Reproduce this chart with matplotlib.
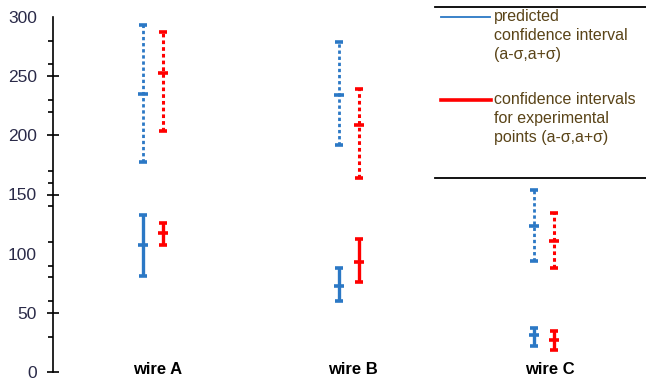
import matplotlib
matplotlib.use("Agg")
import matplotlib.pyplot as plt
import matplotlib.transforms as mtransforms
from matplotlib.lines import Line2D

# ---- data ----
wires = ["wire A", "wire B", "wire C"]

# predicted confidence interval (blue, dotted)
pred_ci_mean = [235, 234, 123]
pred_ci_low = [177.5, 191.5, 93.5]
pred_ci_high = [293, 278.5, 153.5]

# experimental confidence interval (red, dotted)
exp_ci_mean = [253, 208.5, 110.5]
exp_ci_low = [204, 164, 88]
exp_ci_high = [287, 239.5, 134]

# predicted points (blue, solid)
pred_mean = [107, 73, 31]
pred_low = [81, 60, 22]
pred_high = [133, 88, 37.5]

# experimental points (red, solid)
exp_mean = [117.5, 93, 27]
exp_low = [107.5, 76, 18.5]
exp_high = [125.5, 112.5, 34.5]

y_major = [0, 50, 100, 150, 200, 250, 300]
y_major_no_tick = [100, 300]
y_minor = [30, 60, 80, 90, 110, 140, 160, 170, 220, 230, 260, 280]

legend_pred = "predicted\nconfidence interval\n(a-σ,a+σ)"
legend_exp = "confidence intervals\nfor experimental\npoints (a-σ,a+σ)"

BLUE = "#2b78c5"
RED = "#ff0000"

W, H = 646, 383
fig = plt.figure(figsize=(W / 100, H / 100), dpi=100)
ax = fig.add_axes([53 / W, (H - 372) / H, (W - 53) / W, (372 - 17) / H])

off = 0.051


def draw(x, mean, low, high, color, ls, lw):
    yerr = [[m - lo for m, lo in zip(mean, low)], [hi - m for m, hi in zip(mean, high)]]
    for i in range(len(x)):
        eb = ax.errorbar([x[i]], [mean[i]], yerr=[[yerr[0][i]], [yerr[1][i]]],
                         fmt="_", color=color, ecolor=color, elinewidth=lw,
                         capsize=3.2, capthick=2.2, markersize=6.5, mew=2.6,
                         clip_on=False, zorder=3)
        eb[2][0].set_linestyle(ls)


xs = list(range(len(wires)))
draw([x - off for x in xs], pred_ci_mean, pred_ci_low, pred_ci_high, BLUE, (0, (1.2, 1.0)), 2.0)
draw([x + off for x in xs], exp_ci_mean, exp_ci_low, exp_ci_high, RED, (0, (1.2, 1.0)), 2.2)
draw([x - off for x in xs], pred_mean, pred_low, pred_high, BLUE, "-", 2.4)
draw([x + off for x in xs], exp_mean, exp_low, exp_high, RED, "-", 2.4)

ax.set_xlim(-0.508, 2.518)
ax.set_ylim(0, 300)

for s in ["top", "right", "bottom"]:
    ax.spines[s].set_visible(False)
ax.spines["left"].set_linewidth(1.2)
ax.spines["left"].set_color("black")

ax.set_xticks([])
ax.set_yticks(y_major)
ax.set_yticklabels([str(v) for v in y_major], fontsize=12.5, family="Liberation Sans",
                   color="#2a2a48")
ax.set_yticks(y_minor, minor=True)
ax.tick_params(axis="y", which="major", direction="inout", length=9, width=1.2, pad=7)
ax.tick_params(axis="y", which="minor", direction="out", length=3.6, width=1.2)
for t, v in zip(ax.yaxis.get_major_ticks(), y_major):
    if v in y_major_no_tick:
        t.tick1line.set_visible(False)

trans = mtransforms.blended_transform_factory(ax.transData, ax.transAxes)
for i, w in enumerate(wires):
    ax.text(i + 0.025, 0.006, w, transform=trans, ha="center", va="center",
            fontsize=12, fontweight="bold", family="Liberation Sans", clip_on=False)

# legend box drawn by hand
def fx(px):
    return px / W


def fy(py):
    return 1 - py / H


fig.add_artist(Line2D([fx(435), fx(646)], [fy(7), fy(7)], color="black", lw=1.3))
fig.add_artist(Line2D([fx(435), fx(646)], [fy(178), fy(178)], color="black", lw=1.3))
fig.add_artist(Line2D([fx(441), fx(490)], [fy(17), fy(17)], color=BLUE, lw=1.3))
fig.add_artist(Line2D([fx(441), fx(491)], [fy(100), fy(100)], color=RED, lw=2.6))
fig.text(fx(494), fy(9), legend_pred, ha="left", va="top", fontsize=11.5,
         family="Liberation Sans", color="#5a4418", linespacing=1.35)
fig.text(fx(494), fy(92), legend_exp, ha="left", va="top", fontsize=11.5,
         family="Liberation Sans", color="#5a4418", linespacing=1.35)

fig.savefig("out.png", dpi=100)
